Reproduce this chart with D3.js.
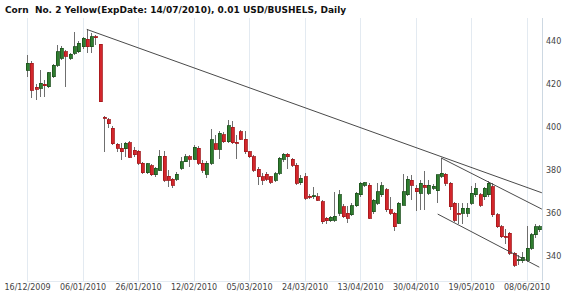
<!DOCTYPE html>
<head>
<meta charset="utf-8">
<title>Corn candlestick</title>
<script type="text/javascript" src="https://d3js.org/d3.v7.min.js"></script>
<style>
    body { margin: 0; background: #fff; }
    .axis text {
    fill: #444;
    font-family: "DejaVu Sans", Verdana, sans-serif;
    font-size: 8px;
    }
    .axis path, .axis line { display: none; }
    .grid { stroke: #e3eaf1; stroke-width: 1; shape-rendering: crispEdges; }
    .wick { stroke: #6f6f6f; stroke-width: 1; shape-rendering: crispEdges; }
    .up { fill: #2f7d2f; stroke: #1c501c; stroke-width: 0.8; shape-rendering: crispEdges; }
    .down { fill: #d3262b; stroke: #a3161a; stroke-width: 0.8; shape-rendering: crispEdges; }
    .trend { stroke: #4a4a4a; stroke-width: 1; fill: none; }
    .title { font-family: "DejaVu Sans", Verdana, sans-serif; font-weight: bold; font-size: 9px; fill: #111; white-space: pre; }
</style>
</head>
<body>
<div id="container"></div>
<script>
//-----------------------------DATA-----------------------------//
var titleText = "Corn  No. 2 Yellow(ExpDate: 14/07/2010), 0.01 USD/BUSHELS, Daily";

// one entry per trading day, 16/12/2009 .. mid 06/2010
var open  = [426.5,429.6,418.4,418,419.8,418.8,423.4,428.8,432,435,432,434.3,435,437.4,440.8,437.4,442,438.4,
             404.6,403.3,399.5,392,390.1,389.8,392.7,389.3,388.8,383.1,378.7,382,377.7,380,386.5,377,375.8,375.8,380.8,383.9,
             386.2,385,390.1,383.1,378.1,383.1,392.1,389.6,396.3,393.2,399.9,392.9,397.9,394.3,388.5,386.2,380.3,376.9,378,376.9,
             375.3,378.5,385,387.4,385,382.3,374.1,376.9,367.8,367.6,367.6,365.3,357.5,356.4,356.7,359.9,363,359.8,359.1,363.3,
             368.4,373,373,360.6,364.5,368.4,370.7,361.4,359.9,355.2,363.7,368.4,375.3,371.5,369.2,373,369.2,371.5,370.4,377.2,
             378.1,373.8,364.5,359.9,359.9,359.9,364.5,368.4,368.4,367.6,368.4,372.2,359.1,353.6,349.2,350.5,341.2,338.1,337.8,
             338.1,343.6,349.8,352.1];
var high  = [433.5,430.5,420,426.5,421.9,425.8,429.5,438,437.5,435.8,434.5,444.3,439.8,442,445.4,443.7,442.6,438.6,
             405,404,400.5,392.5,392.6,392.8,393.5,390.5,389.5,383.6,383.3,383,381.3,389.3,389,380,376.4,378.9,385.9,387.4,
             386.8,391.6,391,384.6,384.3,399.3,396.2,398,397.5,403.3,402.6,396.3,398.8,398,389,387,381.6,378.4,379,377.4,
             379.3,386.2,388,387.9,385.7,383.1,377.7,378.4,369,372,369.2,366.2,358,358.6,369.9,370.9,364,363.3,364.6,370,
             374.6,374.6,374,366.3,374,374.5,371.5,367.6,360.6,365.3,378,377.4,377.7,373.1,375.3,379.5,375.3,373.5,377.7,385.4,
             378.7,374.6,365.3,364.5,364.5,364.5,372.5,374,369.2,372.2,375,373.8,359.9,354.4,352.6,351.3,342,340.4,342,
             354,350.5,355,354.4];
var low   = [423.4,413.5,412.4,414.1,414,418,422.8,428,431,418.8,431.2,433.5,434.5,436.5,434.4,434.4,438,411.5,
             388.5,399.5,391.6,388.4,384.8,386,385.4,386,382.5,378.3,378.3,377.2,376.7,379.4,374.4,372.3,371.6,374.8,380.2,383.6,
             381.5,384.5,382.3,378.6,376.2,382.5,389.1,385,392.6,392.7,392.2,385,393.8,387.6,385.7,379.2,373.2,372.9,375,373.6,
             374.6,377.7,383.6,380.6,381.6,373,372.9,366,366.5,366.6,365.4,355,355,355.8,356,358.5,357.6,355.4,358.6,362.8,
             367.6,372.2,357,359.5,363.7,367.6,360.6,359,351.6,354.8,363.7,367.9,366,361,361.4,361.4,368.4,370.5,364.6,376.5,
             372.7,361.6,355.9,354.9,354.9,358.3,363.7,367.6,362.9,366,367.6,358.3,352.8,348.2,345.8,340.4,335.1,335.8,336.6,
             337.3,343,348.6,351.3];
var close = [429.6,417.2,417.6,420.3,419.3,425.3,428.8,435,436.7,432.8,433.8,437.4,439,441.3,437.4,442,441.6,411.8,
             404.2,401.4,392.1,390.1,388.5,392.4,385.9,387,383.1,378.7,382.8,377.7,380.8,386.5,375.3,375.3,373,378.1,383.9,386.2,
             384.9,390.6,383.1,380,383.1,394,389.6,397,393.2,400.5,392.7,392.5,394.3,388.5,386.2,380,376.9,375.3,375.6,374.4,
             378.3,385.4,387.4,386.2,382.3,373.8,376.1,366.8,367.4,368,366,356,356.3,358,358.6,368.4,358.2,357.5,363.3,369.2,
             373.8,374.1,357.5,366,369.9,372.6,361.4,359.9,353.6,364.5,369.9,375.7,373,369.9,373.8,371.9,373,372.5,377.7,378.5,
             373.8,362.9,356.7,359.7,362.2,362.2,369.2,371.5,363.7,371.5,373.8,359.1,353.6,349,348.8,341.2,335.8,338.3,339.4,
             343.6,349.8,353.6,353.6];

var tickIdx = [0, 13, 26, 39, 52, 65, 78, 91, 104, 117];
var tickLabels = ["16/12/2009","06/01/2010","26/01/2010","12/02/2010","05/03/2010",
                  "24/03/2010","13/04/2010","30/04/2010","19/05/2010","08/06/2010"];
var yTicks = [340, 360, 380, 400, 420, 440];

// trend lines as [index, price] pairs
var trend1 = [[14, 445.4], [120.6, 369.4]];
var trend2 = [[97, 385.6], [120.6, 361.8]];
var trend3 = [[96.2, 359.5], [120, 334.8]];

//-----------------------------SVG------------------------------//
var width = 570, height = 298;
var plotTop = 18, plotBottom = 281, plotRight = 542;

var svg = d3.select("div#container").append("svg")
    .attr("width", width)
    .attr("height", height);

//----------------------------SCALES----------------------------//
var xScale = d3.scaleLinear().domain([0, 117]).range([27, 526.5]);
var yScale = d3.scaleLinear().domain([340, 440]).range([256, 41]);

//-----------------------------GRID-----------------------------//
svg.selectAll(".vgrid")
    .data(tickIdx)
    .enter().append("line")
    .attr("class", "grid")
    .attr("x1", function(d) { return Math.round(xScale(d)) + 0.5; })
    .attr("x2", function(d) { return Math.round(xScale(d)) + 0.5; })
    .attr("y1", plotTop)
    .attr("y2", plotBottom);

svg.append("line").attr("class", "grid")
    .attr("x1", 27).attr("x2", plotRight)
    .attr("y1", plotBottom + 0.5).attr("y2", plotBottom + 0.5);
svg.append("line").attr("class", "grid")
    .style("stroke", "#cdd8e2")
    .attr("x1", plotRight + 0.5).attr("x2", plotRight + 0.5)
    .attr("y1", plotTop).attr("y2", plotBottom);

//-----------------------------AXES-----------------------------//
svg.append("g")
    .attr("class", "axis")
    .attr("transform", "translate(0," + plotBottom + ")")
    .call(d3.axisBottom(xScale)
        .tickValues(tickIdx)
        .tickSize(0)
        .tickFormat(function(d, i) { return tickLabels[i]; }));

svg.append("g")
    .attr("class", "axis")
    .attr("transform", "translate(" + (plotRight + 1) + ",0)")
    .call(d3.axisRight(yScale)
        .tickValues(yTicks)
        .tickSize(0));

//---------------------------CANDLES----------------------------//
var candles = open.map(function(o, i) {
    return {i: i, o: o, h: high[i], l: low[i], c: close[i]};
});

svg.selectAll(".wick")
    .data(candles)
    .enter().append("line")
    .attr("class", "wick")
    .attr("x1", function(d) { return Math.round(xScale(d.i)) + 0.5; })
    .attr("x2", function(d) { return Math.round(xScale(d.i)) + 0.5; })
    .attr("y1", function(d) { return yScale(d.h); })
    .attr("y2", function(d) { return yScale(d.l); });

svg.selectAll(".body")
    .data(candles)
    .enter().append("rect")
    .attr("class", function(d) { return d.c >= d.o ? "up" : "down"; })
    .attr("x", function(d) { return Math.round(xScale(d.i)) - 1; })
    .attr("width", 3)
    .attr("y", function(d) { return yScale(Math.max(d.o, d.c)); })
    .attr("height", function(d) { return Math.max(1, Math.abs(yScale(d.o) - yScale(d.c))); });

//--------------------------TRENDLINES--------------------------//
var line = d3.line()
    .x(function(d) { return xScale(d[0]); })
    .y(function(d) { return yScale(d[1]); });

[trend1, trend2, trend3].forEach(function(t) {
    svg.append("path").attr("class", "trend").attr("d", line(t));
});

//----------------------------TITLE-----------------------------//
svg.append("text")
    .attr("class", "title")
    .attr("x", 5)
    .attr("y", 13)
    .text(titleText);
</script>
</body>
